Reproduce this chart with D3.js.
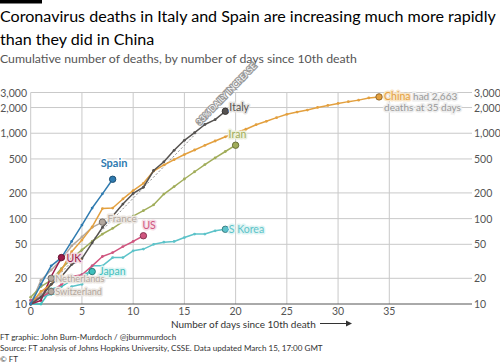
<!DOCTYPE html>
<html>
<head>
<meta charset="utf-8">
<script src="https://cdn.jsdelivr.net/npm/d3@7"></script>
<style>
  body { margin: 0; background: #fff; }
  text { font-family: Lato, "Open Sans", sans-serif; }
</style>
</head>
<body>
<svg id="chart" width="500" height="364"></svg>
<script>
const SVG = d3.select('#chart');

// DATA (cumulative deaths, index = days since 10th death)
const italy = [10, 12, 17, 21, 29, 34, 52, 79, 107, 148, 197, 233, 366, 463, 631, 827, 1016, 1266, 1441, 1809];
const spain = [10, 17, 28, 35, 54, 84, 133, 195, 289];
const china = [10, 14, 17, 25, 41, 56, 80, 131, 133, 170, 213, 259, 361, 425, 490, 563, 636, 722, 811, 908,
  1016, 1113, 1259, 1380, 1523, 1665, 1770, 1868, 2004, 2118, 2236, 2345, 2442, 2592, 2663];
const iran = [12, 16, 19, 26, 34, 43, 54, 66, 77, 92, 107, 124, 145, 194, 237, 291, 354, 429, 514, 611, 724];
const korea = [11, 12, 13, 13, 16, 17, 28, 28, 35, 35, 42, 44, 50, 53, 54, 60, 66, 66, 72, 75];
const us = [11, 12, 14, 17, 21, 22, 28, 36, 40, 47, 54, 63];
const france = [10, 19, 25, 33, 48, 61, 79, 91];
const japan = [10, 10, 15, 16, 19, 22, 24];
const uk = [10, 11, 21, 35];
const netherlands = [10, 12, 20];
const switzerland = [11, 13, 14];

const xTicks = [0, 5, 10, 15, 20, 25, 30, 35];
const yTicks = [10, 20, 50, 100, 200, 500, 1000, 2000, 3000];
const dailyIncrease = 1.33;

const series = [
  { name: 'Switzerland', values: switzerland, color: '#b3a89e', halo: '#ece7e2', dx: 4, dy: 3.5, size: 9.2 },
  { name: 'Netherlands', values: netherlands, color: '#b3a89e', halo: '#ece7e2', dx: 4, dy: 4, size: 9.2 },
  { name: 'France', values: france, color: '#b3a89e', halo: '#ece7e2', dx: 5, dy: 0, size: 10 },
  { name: 'Japan', values: japan, color: '#3fc0bd', halo: '#def4f3', dx: 7, dy: 3, size: 10.5 },
  { name: 'S Korea', values: korea, color: '#5dc3c9', halo: '#def4f3', dx: 3.5, dy: 4, size: 10.5 },
  { name: 'US', values: us, color: '#d0557f', halo: '#f6dde6', dx: -1, dy: -7, size: 10.5 },
  { name: 'Iran', values: iran, color: '#a1ad5a', halo: '#eef0da', dx: -7, dy: -7, size: 10.5 },
  { name: 'UK', values: uk, color: '#9c1b4a', halo: '#f3d9e1', dx: 5, dy: 4, size: 10.5 },
  { name: 'China', values: china, color: '#e3a03f', halo: '#f9e6c8', dx: 5, dy: 3.5, size: 10.5 },
  { name: 'Italy', values: italy, color: '#555250', halo: '#e5e3e1', dx: 4, dy: 0, size: 10.5 },
  { name: 'Spain', values: spain, color: '#2f7bb0', halo: '#ffffff', dx: -12, dy: -12, size: 11, bold: true }
];

// SCALES
const x = d3.scaleLinear().domain([0, 35]).range([30.7, 389.3]);
const y = d3.scaleLog().domain([10, 3000]).range([304, 92.5]);
const PLOT_RIGHT = 472;

// shrink / grow a text so that it spans the wanted width
function fitWidth(sel, width) {
  const size = parseFloat(sel.attr('font-size'));
  const w = sel.node().getComputedTextLength();
  sel.attr('font-size', size * width / w);
}

// TITLES
SVG.append('rect').attr('x', 0).attr('y', 0).attr('width', 42).attr('height', 3.5).attr('fill', '#000');

const t1 = SVG.append('text').attr('x', 0).attr('y', 22)
  .attr('font-size', 17).attr('fill', '#000')
  .text('Coronavirus deaths in Italy and Spain are increasing much more rapidly');
fitWidth(t1, 496);
SVG.append('text').attr('x', 0).attr('y', 45)
  .attr('font-size', t1.attr('font-size')).attr('fill', '#000')
  .text('than they did in China');
const sub = SVG.append('text').attr('x', 0).attr('y', 63)
  .attr('font-size', 12).attr('fill', '#555')
  .text('Cumulative number of deaths, by number of days since 10th death');
fitWidth(sub, 357);

// GRID
const grid = SVG.append('g');
grid.selectAll('line.v')
  .data(xTicks)
  .join('line')
  .attr('class', 'v')
  .attr('x1', d => x(d)).attr('x2', d => x(d))
  .attr('y1', y(3000)).attr('y2', y(10))
  .attr('stroke', '#c9c9c9').attr('stroke-width', 1);

grid.selectAll('line.h')
  .data(yTicks)
  .join('line')
  .attr('class', 'h')
  .attr('x1', x(0)).attr('x2', PLOT_RIGHT)
  .attr('y1', d => y(d)).attr('y2', d => y(d))
  .attr('stroke', d => d === 10 ? '#555' : '#c9c9c9').attr('stroke-width', 1);

const fmt = d3.format(',');
SVG.selectAll('text.yl')
  .data(yTicks)
  .join('text')
  .attr('class', 'yl')
  .attr('x', 27).attr('y', d => y(d) + 4)
  .attr('text-anchor', 'end').attr('font-size', 10.5).attr('fill', '#555')
  .text(d => fmt(d));

SVG.selectAll('text.yr')
  .data(yTicks)
  .join('text')
  .attr('class', 'yr')
  .attr('x', 474).attr('y', d => y(d) + 4)
  .attr('font-size', 10.5).attr('fill', '#555')
  .text(d => fmt(d));

SVG.selectAll('text.xl')
  .data(xTicks)
  .join('text')
  .attr('class', 'xl')
  .attr('x', d => x(d)).attr('y', 315)
  .attr('text-anchor', 'middle').attr('font-size', 10.5).attr('fill', '#555')
  .text(d => d);

const xTitle = SVG.append('text').attr('x', 171).attr('y', 327.5)
  .attr('font-size', 10).attr('fill', '#333')
  .text('Number of days since 10th death');
fitWidth(xTitle, 145);
SVG.append('line').attr('x1', 320).attr('x2', 348).attr('y1', 323.5).attr('y2', 323.5)
  .attr('stroke', '#333').attr('stroke-width', 1);
SVG.append('path').attr('d', 'M346,320.5 L352,323.5 L346,326.5 Z').attr('fill', '#333');

// 33% DAILY INCREASE REFERENCE
const refDays = d3.range(0, 16.3, 0.1);
const line = d3.line().x((d, i) => x(i)).y(d => y(d));
SVG.append('path')
  .attr('d', d3.line().x(d => x(d)).y(d => y(10 * Math.pow(dailyIncrease, d)))(refDays))
  .attr('fill', 'none').attr('stroke', '#777').attr('stroke-width', 0.9).attr('stroke-dasharray', '2,2');

const angle = -Math.atan2(y(10) - y(10 * dailyIncrease), x(1) - x(0)) * 180 / Math.PI;
SVG.append('text')
  .attr('transform', `translate(${x(16.5)},${y(10 * Math.pow(dailyIncrease, 16.5)) - 4}) rotate(${angle})`)
  .attr('font-size', 8.3).attr('fill', '#fff').attr('stroke', '#999').attr('stroke-width', 2.4)
  .attr('paint-order', 'stroke')
  .text('33% DAILY INCREASE');

// SERIES
const plot = SVG.append('g');
series.forEach(s => {
  plot.append('path')
    .attr('d', line(s.values))
    .attr('fill', 'none').attr('stroke', s.color).attr('stroke-width', 1.5)
    .attr('stroke-linejoin', 'round');
  plot.selectAll(null)
    .data(s.values)
    .join('circle')
    .attr('cx', (d, i) => x(i)).attr('cy', d => y(d))
    .attr('r', 1.4).attr('fill', s.color);
});

series.forEach(s => {
  const last = s.values.length - 1;
  const lx = x(last);
  const ly = y(s.values[last]);
  plot.append('circle')
    .attr('cx', lx).attr('cy', ly).attr('r', 3.2)
    .attr('fill', s.color).attr('stroke', d3.color(s.color).darker(1.2)).attr('stroke-width', 1);
  plot.append('text')
    .attr('x', lx + s.dx).attr('y', ly + s.dy)
    .attr('font-size', s.size).attr('font-weight', s.bold ? 700 : 400)
    .attr('fill', s.color).attr('stroke', s.halo).attr('stroke-width', 3)
    .attr('paint-order', 'stroke').attr('stroke-linejoin', 'round')
    .text(s.name);
});

// China annotation
const chinaEnd = china.length - 1;
const note = SVG.append('text')
  .attr('x', x(chinaEnd) + 34).attr('y', y(china[chinaEnd]) + 3.5)
  .attr('font-size', 10).attr('fill', '#999').attr('stroke', '#eee').attr('stroke-width', 3)
  .attr('paint-order', 'stroke');
note.append('tspan').text('had ' + fmt(china[chinaEnd]));
note.append('tspan').attr('x', x(chinaEnd) + 5).attr('dy', 11).text(`deaths at ${chinaEnd + 1} days`);

// FOOTER
const footer = [
  'FT graphic: John Burn-Murdoch / @jburnmurdoch',
  'Source: FT analysis of Johns Hopkins University, CSSE. Data updated March 15, 17:00 GMT',
  '\u00A9 FT'
];
const ft = SVG.selectAll('text.ft')
  .data(footer)
  .join('text')
  .attr('class', 'ft')
  .attr('x', 0).attr('y', (d, i) => 340 + i * 11)
  .attr('font-size', 9).attr('fill', '#333')
  .text(d => d);
fitWidth(d3.select(ft.nodes()[1]), 323);
d3.select(ft.nodes()[0]).attr('font-size', d3.select(ft.nodes()[1]).attr('font-size'));
d3.select(ft.nodes()[2]).attr('font-size', d3.select(ft.nodes()[1]).attr('font-size'));
</script>
</body>
</html>
